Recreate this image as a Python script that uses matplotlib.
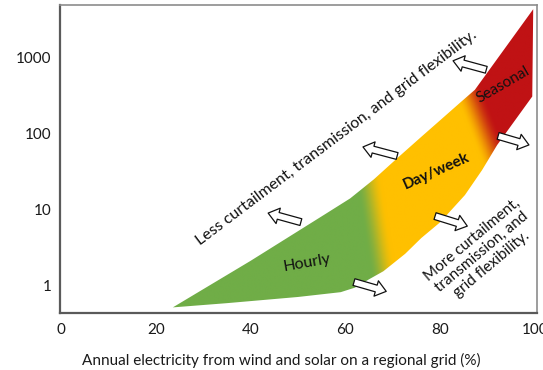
import numpy as np
import matplotlib
matplotlib.use("Agg")
import matplotlib.pyplot as plt
from matplotlib.patches import Polygon

plt.rcParams['font.family'] = ['Lato', 'DejaVu Sans']

# storage band: upper and lower boundary (share of wind+solar %, storage duration)
upper_x = [23.6, 40.0, 55.5, 61.0, 66.0, 71.0, 76.0, 80.0, 84.0, 87.3, 99.6]
upper_y = [0.51, 2.1, 8.5, 14, 25, 48, 91, 151, 251, 380, 4400]
lower_x = [23.6, 35.0, 50.0, 59.0, 62.0, 65.0, 68.0, 72.6, 76.0, 80.0, 85.2, 88.8, 92.0, 99.4, 99.6]
lower_y = [0.51, 0.58, 0.70, 0.81, 0.93, 1.2, 1.53, 2.6, 4.2, 6.8, 15.5, 33, 71, 310, 4400]

x_ticks = [0, 20, 40, 60, 80, 100]
y_ticks = [1, 10, 100, 1000]

green = np.array([112, 173, 71]) / 255
yellow = np.array([255, 192, 0]) / 255
red = np.array([192, 18, 20]) / 255

fig = plt.figure(figsize=(5.43, 3.70), dpi=100)
ax = fig.add_axes([60 / 543, 1 - 313 / 370, 477 / 543, 308 / 370])

xlim = (-0.2, 100.4)
ylim = (0.43, 5000)


def smooth(t):
    t = np.clip(t, 0, 1)
    return t * t * (3 - 2 * t)


# colour field over the axes: green -> yellow -> red
nx, ny = 600, 400
u = np.linspace(0, 1, nx)
v = np.linspace(0, 1, ny)
U, V = np.meshgrid(u, v)
X = xlim[0] + U * (xlim[1] - xlim[0])
LY = np.log10(ylim[0]) + V * (np.log10(ylim[1]) - np.log10(ylim[0]))

t_gy = smooth((X - 65.6 + 2.5 * (LY - 1.13) + 2.8) / 5.6)
t_yr = smooth((X - 86.3 + 6.2 * (LY - 2.52) + 3.2) / 6.4)
rgb = (green[None, None, :] * (1 - t_gy[..., None]) + yellow[None, None, :] * t_gy[..., None])
rgb = rgb * (1 - t_yr[..., None]) + red[None, None, :] * t_yr[..., None]

im = ax.imshow(rgb, extent=(0, 1, 0, 1), origin='lower', aspect='auto',
               transform=ax.transAxes, interpolation='bilinear', zorder=1)

ax.set_yscale('log')
verts = list(zip(upper_x, upper_y)) + list(zip(lower_x[::-1], lower_y[::-1]))
band = Polygon(verts, closed=True, facecolor='none', edgecolor='none',
               transform=ax.transData)
ax.add_patch(band)
im.set_clip_path(band)

ax.set_xlim(*xlim)
ax.set_ylim(*ylim)

ax.set_xticks(x_ticks)
ax.set_xticklabels([str(t) for t in x_ticks])
ax.set_yticks(y_ticks)
ax.set_yticklabels([str(t) for t in y_ticks])
ax.minorticks_off()
ax.tick_params(axis='both', length=0, labelsize=11, colors='#1a1a1a')
ax.tick_params(axis='x', pad=7)
ax.tick_params(axis='y', pad=6)

for side in ['left', 'bottom']:
    ax.spines[side].set_color('#5a5a5a')
    ax.spines[side].set_linewidth(1.6)
for side in ['top', 'right']:
    ax.spines[side].set_color('#8c8c8c')
    ax.spines[side].set_linewidth(1.2)

ax.set_xlabel('Annual electricity from wind and solar on a regional grid (%)',
              fontsize=11, color='#1a1a1a', labelpad=12)
ax.xaxis.label.set_x(0.463)

# hollow arrows: (tail x, tail y, head x, head y)
arrows = [
    (89.7, 698, 82.7, 918),
    (70.9, 50.8, 63.7, 66.9),
    (50.6, 6.81, 43.7, 8.96),
    (92.2, 93.5, 98.7, 71.1),
    (78.9, 8.18, 85.7, 6.03),
    (61.8, 1.10, 68.6, 0.83),
]
for tx, ty, hx, hy in arrows:
    ax.annotate('', xy=(hx, hy), xytext=(tx, ty),
                arrowprops=dict(arrowstyle='simple,head_width=1.15,head_length=0.75,tail_width=0.5',
                                mutation_scale=10, fc='white', ec='#111111', lw=0.9,
                                shrinkA=0, shrinkB=0), zorder=3)

ax.text(51.9, 1.95, 'Hourly', rotation=10, fontsize=11.5, ha='center', va='center',
        color='#111111', zorder=4)
ax.text(79.2, 32, 'Day/week', rotation=24, fontsize=11, fontweight='bold',
        ha='center', va='center', color='#111111', zorder=4)
ax.text(93.2, 442, 'Seasonal', rotation=30, fontsize=11, ha='center', va='center',
        color='#111111', zorder=4)
ax.text(58.2, 88, 'Less curtailment, transmission, and grid flexibility.', rotation=37,
        fontsize=11.5, ha='center', va='center', color='#111111', zorder=4)
ax.text(88.8, 2.75, 'More curtailment,\ntransmission, and\ngrid flexibility.', rotation=40,
        fontsize=11, ha='center', va='center', multialignment='center',
        linespacing=1.15, color='#111111', zorder=4)

fig.savefig('out.png', dpi=100)
